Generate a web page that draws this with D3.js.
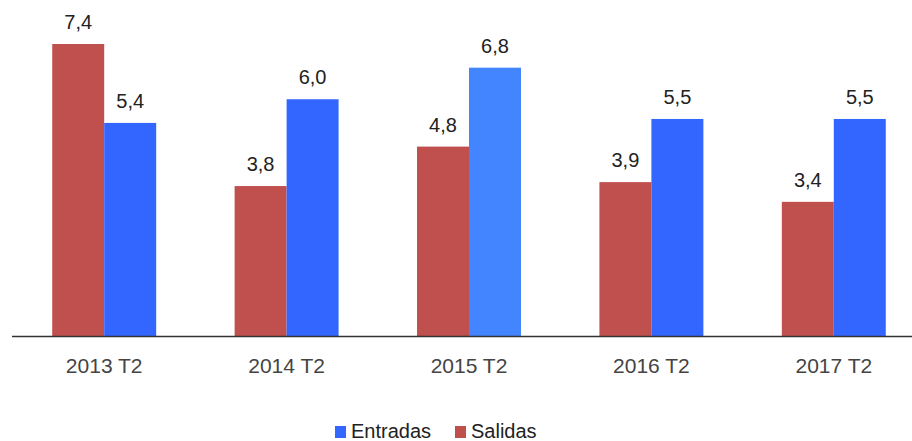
<!DOCTYPE html>
<html><head><meta charset="utf-8">
<script src="https://cdn.jsdelivr.net/npm/d3@7"></script>
<style>body{margin:0;background:#fff}svg{display:block;font-family:"Liberation Sans",Arial,sans-serif}</style>
</head><body><svg id="c" width="912" height="441"></svg>
<script>
const categories = ["2013 T2","2014 T2","2015 T2","2016 T2","2017 T2"];
const salidas = [7.4, 3.8, 4.8, 3.9, 3.4];
const entradas = [5.4, 6.0, 6.8, 5.5, 5.5];
const seriesNames = ["Salidas","Entradas"];
const legendNames = ["Entradas","Salidas"];
const colors = {Salidas:"#c0504d", Entradas:"#3366ff"};
const highlight = {index:2, color:"#4285ff"};

const svg = d3.select("#c");
const x = d3.scaleBand().domain(categories).range([13, 925]).paddingInner(0.43).paddingOuter(0.215);
const xs = d3.scaleBand().domain(seriesNames).range([0, x.bandwidth()]);
const y = d3.scaleLinear().domain([0, 7.4]).range([336, 44]);
const fmt = v => d3.format(".1f")(v).replace(".", ",");

const data = categories.map((c,i)=>({cat:c, i, vals:[{s:"Salidas",v:salidas[i]},{s:"Entradas",v:entradas[i]}]}));
const g = svg.selectAll("g.grp").data(data).join("g").attr("class","grp")
  .attr("transform", d=>`translate(${x(d.cat)},0)`);
g.selectAll("rect").data(d=>d.vals.map(v=>({...v,i:d.i}))).join("rect")
  .attr("x", d=>xs(d.s)).attr("width", xs.bandwidth())
  .attr("y", d=>y(d.v)).attr("height", d=>y(0)-y(d.v))
  .attr("fill", d=> (d.s==="Entradas" && d.i===highlight.index) ? highlight.color : colors[d.s]);
g.selectAll("text").data(d=>d.vals).join("text")
  .attr("x", d=>xs(d.s)+xs.bandwidth()/2).attr("y", d=>y(d.v)-15)
  .attr("text-anchor","middle").attr("font-size",20).attr("fill","#222")
  .text(d=>fmt(d.v));

// axis
const ax = svg.append("g").attr("transform","translate(0,336)")
  .call(d3.axisBottom(x).tickSize(0).tickPadding(22));
ax.select(".domain").attr("stroke","#333").attr("stroke-width",1.5).attr("d","M12,0.5H912");
ax.selectAll("text").attr("font-size",21).attr("fill","#444").attr("font-family","Liberation Sans, Arial, sans-serif");

// legend
const legX = [335, 455];
const lg = svg.selectAll("g.leg").data(legendNames).join("g").attr("class","leg")
  .attr("transform",(d,i)=>`translate(${legX[i]},426)`);
lg.append("rect").attr("width",11).attr("height",12).attr("fill",d=>colors[d]);
lg.append("text").attr("x",16).attr("y",11.5).attr("font-size",20).attr("fill","#222").text(d=>d);
</script></body></html>
